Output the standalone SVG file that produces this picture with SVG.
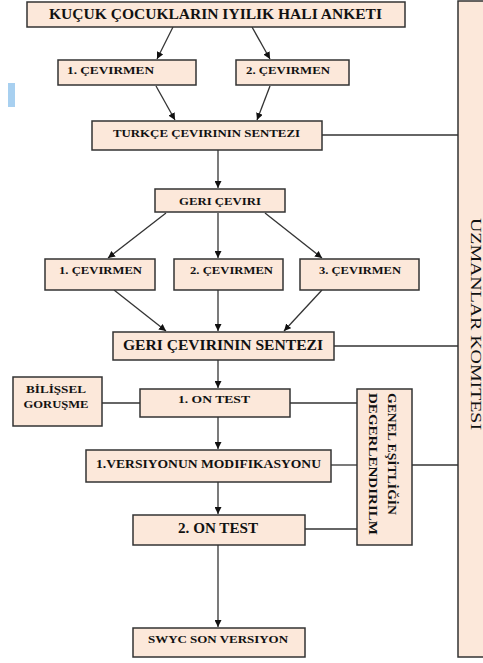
<svg xmlns="http://www.w3.org/2000/svg" width="483" height="663" viewBox="0 0 483 663">
<defs>
<style>
.box{fill:#fce8da;stroke:#333;stroke-width:1.5}
.t{font-family:"Liberation Serif","Times New Roman",serif;font-weight:bold;fill:#111}
.r{font-family:"Liberation Serif","Times New Roman",serif;fill:#111}
.c{stroke:#333;stroke-width:1.3;fill:none}
.a{stroke:#333;stroke-width:1.3;fill:none;marker-end:url(#ah)}
</style>
<marker id="ah" viewBox="0 0 10 10" refX="10" refY="5" markerWidth="7" markerHeight="7" markerUnits="userSpaceOnUse" orient="auto">
<path d="M0,0 L10,5 L0,10 z" fill="#111"/>
</marker>
</defs>
<rect x="0" y="0" width="483" height="663" fill="#fff"/>
<rect x="8" y="83" width="7" height="24" fill="#a8d0f0"/>

<g id="connectors">
<line class="a" x1="173" y1="27" x2="157" y2="59"/>
<line class="a" x1="252" y1="27" x2="270" y2="59"/>
<line class="a" x1="156" y1="86" x2="175" y2="120"/>
<line class="a" x1="270" y1="86" x2="257" y2="120"/>
<line class="c" x1="322" y1="135" x2="458" y2="135"/>
<line class="a" x1="218" y1="150" x2="218" y2="188"/>
<line class="a" x1="166" y1="213" x2="108" y2="258"/>
<line class="a" x1="218" y1="213" x2="218" y2="258"/>
<line class="a" x1="265" y1="213" x2="322" y2="258"/>
<line class="a" x1="114" y1="290" x2="166" y2="331"/>
<line class="a" x1="218" y1="290" x2="218" y2="331"/>
<line class="a" x1="322" y1="290" x2="284" y2="331"/>
<line class="c" x1="334" y1="346" x2="458" y2="346"/>
<line class="a" x1="218" y1="360" x2="218" y2="388"/>
<line class="c" x1="102" y1="403" x2="140" y2="403"/>
<line class="c" x1="290" y1="403" x2="357" y2="403"/>
<line class="a" x1="218" y1="417" x2="218" y2="449"/>
<line class="c" x1="331" y1="465" x2="357" y2="465"/>
<line class="c" x1="412" y1="465" x2="458" y2="465"/>
<line class="a" x1="218" y1="482" x2="218" y2="514"/>
<line class="c" x1="305" y1="529" x2="357" y2="529"/>
<line class="a" x1="218" y1="545" x2="218" y2="627"/>
</g>

<g id="n-committee">
<rect class="box" x="458" y="1" width="30" height="656"/>
<text class="r" font-size="14" transform="translate(471,218) rotate(90)" textLength="212" lengthAdjust="spacingAndGlyphs">UZMANLAR KOMITESI</text>
</g>

<g id="n-title">
<rect class="box" x="27" y="2" width="378" height="25"/>
<text class="t" x="49" y="19" font-size="14" textLength="333" lengthAdjust="spacingAndGlyphs">KUÇUK ÇOCUKLARIN IYILIK HALI ANKETI</text>
</g>

<g id="n-cev1">
<rect class="box" x="58" y="60" width="138" height="25"/>
<text class="t" x="67" y="74" font-size="11" textLength="87" lengthAdjust="spacingAndGlyphs">1.  ÇEVIRMEN</text>
</g>
<g id="n-cev2">
<rect class="box" x="236" y="60" width="113" height="25"/>
<text class="t" x="246" y="74" font-size="11" textLength="84" lengthAdjust="spacingAndGlyphs">2. ÇEVIRMEN</text>
</g>

<g id="n-turkce">
<rect class="box" x="92" y="121" width="230" height="29"/>
<text class="t" x="113" y="137" font-size="11" textLength="187" lengthAdjust="spacingAndGlyphs">TURKÇE ÇEVIRININ SENTEZI</text>
</g>

<g id="n-geri">
<rect class="box" x="155" y="189" width="130" height="23"/>
<text class="t" x="179" y="205" font-size="11" textLength="82" lengthAdjust="spacingAndGlyphs">GERI ÇEVIRI</text>
</g>

<g id="n-bcev1">
<rect class="box" x="45" y="259" width="110" height="31"/>
<text class="t" x="59" y="274" font-size="11" textLength="83" lengthAdjust="spacingAndGlyphs">1. ÇEVIRMEN</text>
</g>
<g id="n-bcev2">
<rect class="box" x="174" y="259" width="109" height="31"/>
<text class="t" x="190" y="274" font-size="11" textLength="83" lengthAdjust="spacingAndGlyphs">2. ÇEVIRMEN</text>
</g>
<g id="n-bcev3">
<rect class="box" x="300" y="259" width="119" height="31"/>
<text class="t" x="319" y="274" font-size="11" textLength="82" lengthAdjust="spacingAndGlyphs">3. ÇEVIRMEN</text>
</g>

<g id="n-gerisentez">
<rect class="box" x="113" y="332" width="221" height="28"/>
<text class="t" x="123" y="350" font-size="14" textLength="200" lengthAdjust="spacingAndGlyphs">GERI ÇEVIRININ SENTEZI</text>
</g>

<g id="n-bilissel">
<rect class="box" x="13" y="377" width="89" height="49"/>
<text class="t" x="56" y="393" font-size="11" text-anchor="middle" textLength="60" lengthAdjust="spacingAndGlyphs">BİLİŞSEL</text>
<text class="t" x="56" y="408" font-size="11" text-anchor="middle" textLength="65" lengthAdjust="spacingAndGlyphs">GORUŞME</text>
</g>

<g id="n-ontest1">
<rect class="box" x="140" y="389" width="150" height="28"/>
<text class="t" x="178" y="403" font-size="11" textLength="72" lengthAdjust="spacingAndGlyphs">1.  ON TEST</text>
</g>

<g id="n-genel">
<rect class="box" x="357" y="389" width="55" height="156"/>
<text class="t" font-size="12" transform="translate(388,393) rotate(90)" textLength="122" lengthAdjust="spacingAndGlyphs">GENEL EŞİTLİĞİN</text>
<text class="t" font-size="12" transform="translate(369,393) rotate(90)" textLength="142" lengthAdjust="spacingAndGlyphs">DEGERLENDIRILM</text>
</g>

<g id="n-versiyon">
<rect class="box" x="86" y="450" width="245" height="32"/>
<text class="t" x="96" y="468" font-size="12.5" textLength="225" lengthAdjust="spacingAndGlyphs">1.VERSIYONUN MODIFIKASYONU</text>
</g>

<g id="n-ontest2">
<rect class="box" x="133" y="515" width="172" height="30"/>
<text class="t" x="178" y="533" font-size="14" textLength="80" lengthAdjust="spacingAndGlyphs">2. ON TEST</text>
</g>

<g id="n-swyc">
<rect class="box" x="133" y="628" width="172" height="29"/>
<text class="t" x="148" y="643" font-size="11" textLength="140" lengthAdjust="spacingAndGlyphs">SWYC SON VERSIYON</text>
</g>
</svg>
